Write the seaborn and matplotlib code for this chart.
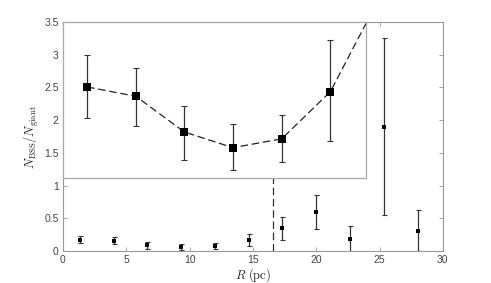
import numpy as np
import pandas as pd
import seaborn as sns
import matplotlib.pyplot as plt

# radial bins (pc) and BSS / giant ratio with error bar limits
R = [1.33, 4.0, 6.67, 9.33, 12.0, 14.67, 17.33, 20.0, 22.67, 25.33, 28.0]
ratio = [0.175, 0.157, 0.088, 0.058, 0.075, 0.166, 0.345, 0.60, 0.185, 1.90, 0.31]
lower = [0.115, 0.100, 0.035, 0.015, 0.030, 0.070, 0.170, 0.330, 0.000, 0.550, 0.000]
upper = [0.237, 0.212, 0.138, 0.103, 0.120, 0.265, 0.520, 0.860, 0.380, 3.250, 0.630]
r_cut = 16.6
n_inset = 6

df = pd.DataFrame({'R': R, 'ratio': ratio, 'lower': lower, 'upper': upper})
yerr = np.array([df.ratio - df.lower, df.upper - df.ratio])

sns.set_style('ticks')
plt.rcParams['mathtext.fontset'] = 'cm'
plt.rcParams['font.family'] = ['Liberation Sans', 'DejaVu Sans']

fig = plt.figure(figsize=(4.91, 2.83), dpi=100)
ax = fig.add_axes([0.128, 0.113, 0.774, 0.809])

ax.axvline(r_cut, color='#333333', lw=0.9, ls=(0, (6, 3)), zorder=1)
ax.errorbar(df.R, df.ratio, yerr=yerr, fmt='none', ecolor='#333333',
            elinewidth=0.9, capsize=1.8, capthick=0.8, zorder=2)
sns.scatterplot(data=df, x='R', y='ratio', marker='s', s=9, color='black',
                edgecolor='black', linewidth=0, ax=ax, zorder=3)

ax.set_xlim(0, 30)
ax.set_ylim(0, 3.5)
ax.set_xticks(np.arange(0, 31, 5))
ax.set_yticks(np.arange(0, 3.6, 0.5))
ax.set_yticklabels(['0', '0.5', '1', '1.5', '2', '2.5', '3', '3.5'])
ax.tick_params(direction='in', length=3, width=0.6, color='#999999',
               labelsize=7.5, labelcolor='#444444', top=True, right=True, pad=3)
for s in ax.spines.values():
    s.set_color('#999999')
    s.set_linewidth(0.8)
ax.set_xlabel(r'$R\ (\mathrm{pc})$', fontsize=9, labelpad=1)
ax.set_ylabel(r'$N_{\rm BSS}/N_{\rm giant}$', fontsize=9, labelpad=2)

# zoomed inset of the inner bins
ins = ax.inset_axes([0, 1.12, 23.9, 2.38], transform=ax.transData)
sub = df.iloc[:n_inset]
ins.plot(df.R[:n_inset + 1], df.ratio[:n_inset + 1], color='#222222',
         lw=0.9, ls=(0, (6, 3)), zorder=1)
ins.errorbar(sub.R, sub.ratio, yerr=yerr[:, :n_inset], fmt='none',
             ecolor='#333333', elinewidth=0.9, capsize=2.2, capthick=0.8, zorder=2)
sns.scatterplot(data=sub, x='R', y='ratio', marker='s', s=30, color='black',
                edgecolor='black', linewidth=0, ax=ins, zorder=3)
ins.set_xlim(0, r_cut)
ins.set_ylim(0, 0.3)
ins.set_xticks([])
ins.set_yticks([])
ins.set_xlabel('')
ins.set_ylabel('')
for s in ins.spines.values():
    s.set_color('#aaaaaa')
    s.set_linewidth(0.9)

fig.savefig('out.png', dpi=100)
